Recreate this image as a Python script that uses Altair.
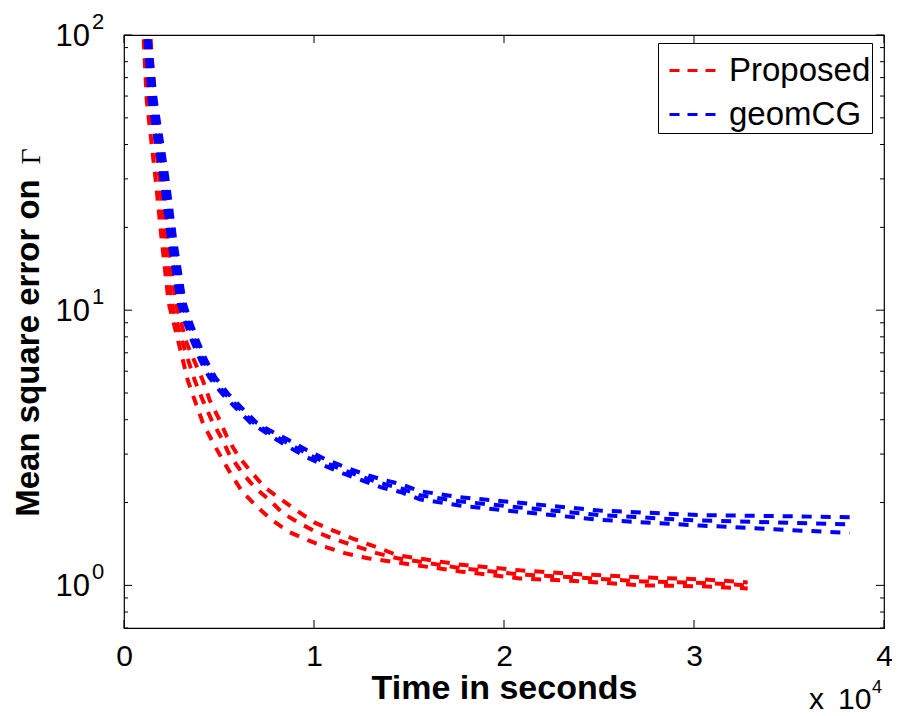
import altair as alt
import pandas as pd

# ---------------- data ----------------
red1_t = [931, 1037, 1195, 1668, 1984, 2353, 2879, 3353, 3721, 4142, 4616, 5142, 5668, 6247,
          7037, 7826, 8721, 9668, 10668, 11616, 12826, 14353, 17668, 20826, 24142, 27300, 30458, 32826]
red1_v = [113, 96, 58, 29.7, 18.0, 10.6, 7.59, 5.57, 4.71, 3.91, 3.37, 2.90, 2.51, 2.18,
          1.92, 1.72, 1.56, 1.46, 1.375, 1.31, 1.254, 1.212, 1.124, 1.06, 1.034, 1.0, 0.992, 0.975]

red2_t = [1089, 1195, 1405, 1879, 2142, 2510, 3089, 3721, 4142, 4616, 5142, 5563, 6195, 6879,
          7668, 8353, 9247, 10142, 10984, 12037, 13300, 14405, 17668, 20826, 24142, 27300, 30458, 32826]
red2_v = [113, 96, 58, 29.7, 18.0, 10.6, 7.59, 5.57, 4.71, 3.98, 3.42, 2.97, 2.58, 2.27,
          2.04, 1.83, 1.68, 1.56, 1.48, 1.40, 1.31, 1.254, 1.157, 1.096, 1.065, 1.034, 1.021, 1.0]

red3_t = [1300, 1405, 1616, 2089, 2300, 2721, 3300, 4142, 4510, 5037, 5458, 5984, 6616, 7405,
          8195, 9089, 10037, 10984, 12037, 13300, 14405, 17668, 20826, 24142, 27300, 30458, 32826]
red3_v = [113, 96, 58, 29.7, 18.0, 10.6, 7.59, 5.57, 4.71, 3.98, 3.42, 2.97, 2.62, 2.27,
          2.07, 1.87, 1.69, 1.585, 1.48, 1.375, 1.286, 1.19, 1.134, 1.096, 1.069, 1.051, 1.025]

blue1_t = [984, 1142, 1353, 1984, 2379, 2879, 3168, 3563, 4010, 4484, 5142, 5905, 6642, 7695,
           8642, 9589, 10563, 11563, 12590, 13537, 14590, 15563, 17668, 20826, 25037, 30300, 38195]
blue1_v = [113, 96, 58, 29.7, 18, 10.6, 9.20, 7.78, 6.58, 5.71, 4.99, 4.40, 3.91, 3.50,
           3.19, 2.93, 2.72, 2.545, 2.40, 2.27, 2.18, 2.055, 1.95, 1.85, 1.73, 1.65, 1.55]

blue2_t = [1095, 1247, 1510, 2142, 2537, 3037, 3326, 3721, 4168, 4642, 5300, 6063, 6800, 7695,
           8642, 9589, 10563, 11563, 12590, 13537, 14590, 15563, 17668, 20826, 25037, 30300, 38195]
blue2_v = [113, 96, 58, 29.7, 18, 10.6, 9.20, 7.78, 6.58, 5.71, 4.99, 4.40, 3.91, 3.57,
           3.28, 3.02, 2.80, 2.62, 2.47, 2.35, 2.25, 2.125, 2.02, 1.92, 1.80, 1.72, 1.667]

blue3_t = [1200, 1353, 1668, 2300, 2695, 3195, 3484, 3879, 4326, 4800, 5458, 6221, 6958, 7695,
           8642, 9589, 10563, 11563, 12590, 13537, 14590, 15563, 17668, 20826, 25037, 30300, 38195]
blue3_v = [113, 96, 58, 29.7, 18, 10.6, 9.20, 7.78, 6.58, 5.71, 4.99, 4.40, 3.91, 3.65,
           3.38, 3.11, 2.88, 2.70, 2.545, 2.43, 2.33, 2.20, 2.09, 1.995, 1.87, 1.80, 1.77]

methods = ["Proposed", "geomCG"]
colors = ["#ff0000", "#0000ff"]

x_ticks = [0, 10000, 20000, 30000, 40000]
y_major = [1, 10, 100]
y_major_exp = ["0", "1", "2"]
y_minor = [0.7, 0.8, 0.9, 2, 3, 4, 5, 6, 7, 8, 9, 20, 30, 40, 50, 60, 70, 80, 90]

x_title = "Time in seconds"
y_title = "Mean square error on"
y_title_symbol = "Γ"
x_mult = ["x", "10", "4"]

# ---------------- tables ----------------
series = [
    ("Proposed", "p1", red1_t, red1_v),
    ("Proposed", "p2", red2_t, red2_v),
    ("Proposed", "p3", red3_t, red3_v),
    ("geomCG", "g1", blue1_t, blue1_v),
    ("geomCG", "g2", blue2_t, blue2_v),
    ("geomCG", "g3", blue3_t, blue3_v),
]
rows = []
for m, r, ts, vs in series:
    for t, v in zip(ts, vs):
        rows.append({"t": t, "mse": v, "method": m, "run": r})
df = pd.DataFrame(rows)

xt_df = pd.DataFrame({"t": x_ticks})
ymaj_df = pd.DataFrame({"mse": y_major, "base": ["10"] * len(y_major), "exp": y_major_exp})
ymin_df = pd.DataFrame({"mse": y_minor})

W, H = 760, 593
FONT = "Liberation Sans"

xscale = alt.Scale(domain=[0, 40000], nice=False, zero=False)
yscale = alt.Scale(type="log", domain=[0.7, 100], nice=False)

x_axis = alt.Axis(values=x_ticks, labelExpr="datum.value / 10000",
                  ticks=False, tickSize=0, domain=False, grid=False,
                  labelFlush=False, labelOverlap=False,
                  labelFontSize=30, labelFont=FONT, labelColor="black",
                  labelPadding=13,
                  title=x_title, titleFont=FONT, titleFontSize=34,
                  titleFontWeight="bold", titleColor="black",
                  titleX=W / 2, titleY=70, titleAlign="center",
                  titleBaseline="alphabetic")
y_axis = alt.Axis(labels=False, ticks=False, tickSize=0, domain=False, grid=False,
                  title=y_title, titleFont=FONT, titleFontSize=33,
                  titleFontWeight="bold", titleColor="black",
                  titleAngle=270, titleX=-86, titleY=312.5,
                  titleAlign="center", titleBaseline="alphabetic")

X = alt.X("t:Q", scale=xscale, axis=x_axis)
Y = alt.Y("mse:Q", scale=yscale, axis=y_axis)

lines = alt.Chart(df).mark_line(
    strokeDash=[10, 9], strokeWidth=4, clip=True, strokeCap="butt"
).encode(
    x=X,
    y=Y,
    color=alt.Color("method:N",
                    scale=alt.Scale(domain=methods, range=colors),
                    legend=alt.Legend(title=None, orient="none", legendX=534, legendY=8,
                                      symbolType="stroke", symbolSize=2500,
                                      symbolStrokeWidth=3, symbolDash=[10, 8],
                                      symbolOffset=9,
                                      labelFontSize=33, labelFont=FONT, labelColor="black",
                                      labelExpr="datum.label + ' '",
                                      strokeColor="black", fillColor="white",
                                      padding=1, rowPadding=0, labelOffset=8)),
    detail="run:N",
)

def xrule(y0, y1):
    return alt.Chart(xt_df).mark_rule(color="black", strokeWidth=1).encode(
        x=X, y=alt.value(y0), y2=alt.value(y1))

def yrule(src, x0, x1):
    return alt.Chart(src).mark_rule(color="black", strokeWidth=1).encode(
        y=Y, x=alt.value(x0), x2=alt.value(x1))

ticks = [
    xrule(H, H - 8), xrule(0, 8),
    yrule(ymaj_df, 0, 8), yrule(ymin_df, 0, 4),
    yrule(ymaj_df, W, W - 8), yrule(ymin_df, W, W - 4),
]

ylab_base = alt.Chart(ymaj_df).mark_text(
    align="right", baseline="alphabetic", fontSize=31, font=FONT, color="black", dy=11
).encode(y=Y, x=alt.value(-34), text="base:N")

ylab_exp = alt.Chart(ymaj_df).mark_text(
    align="left", baseline="alphabetic", fontSize=22, font=FONT, color="black", dy=-6
).encode(y=Y, x=alt.value(-32), text="exp:N")

gamma = alt.Chart(pd.DataFrame({"s": [y_title_symbol]})).mark_text(
    angle=270, align="center", baseline="alphabetic", fontSize=28,
    font="Liberation Serif", color="black"
).encode(x=alt.value(-84), y=alt.value(121.5), text="s:N")

def note(txt, x, y, size):
    return alt.Chart(pd.DataFrame({"s": [txt]})).mark_text(
        align="left", baseline="alphabetic", fontSize=size, font=FONT, color="black"
    ).encode(x=alt.value(x), y=alt.value(y), text="s:N")

notes = [note(x_mult[0], 685, 674, 30), note(x_mult[1], 714, 674, 30),
         note(x_mult[2], 748, 658, 18)]

chart = alt.layer(lines, *ticks, ylab_base, ylab_exp, gamma, *notes).properties(
    width=W, height=H,
    autosize=alt.AutoSizeParams(type="none"),
    padding={"left": 116, "top": 27, "right": 8, "bottom": 88},
    background="white",
).configure_view(stroke="black", strokeWidth=1.2).configure_axis(grid=False)

chart.save("out.html", embed_options={"renderer": "svg", "actions": False})
